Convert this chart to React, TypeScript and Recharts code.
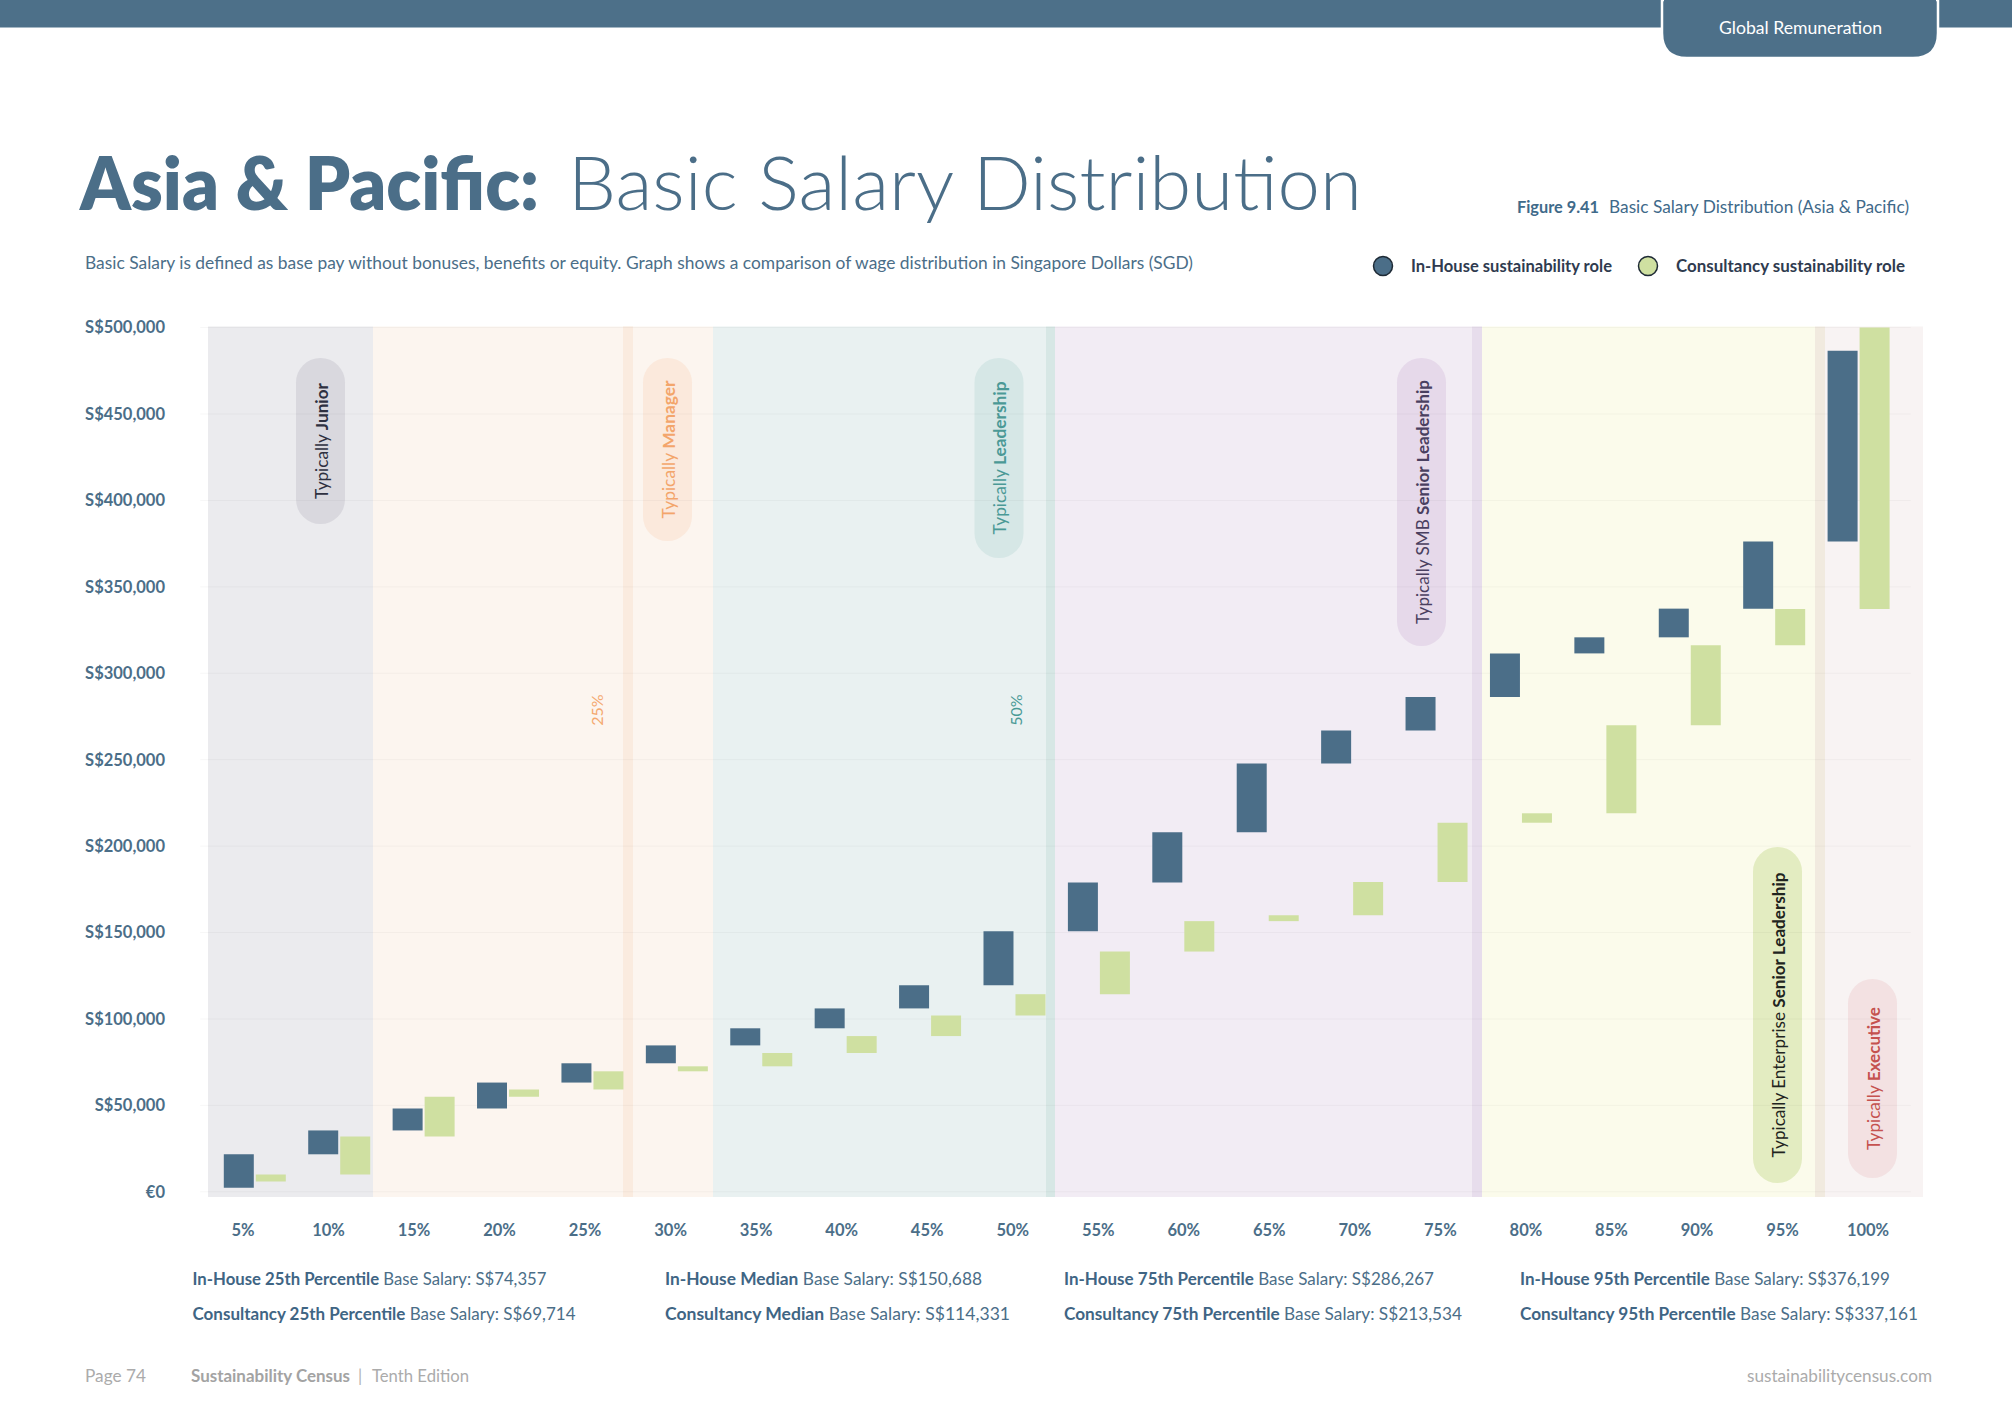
import React from 'react';
import { BarChart, Bar, XAxis, YAxis, CartesianGrid } from 'recharts';

const FONT = "Lato, 'Open Sans', 'DejaVu Sans', sans-serif";

// Percentile categories (x axis)
const percentiles = ['5%', '10%', '15%', '20%', '25%', '30%', '35%', '40%', '45%', '50%',
  '55%', '60%', '65%', '70%', '75%', '80%', '85%', '90%', '95%', '100%'];

// Salary boundaries (SGD) – each bar spans from one boundary to the next
const inHouseBounds = [2400, 21700, 35500, 48200, 63200, 74357, 84700, 94600, 106100, 119500,
  150688, 178900, 208000, 247800, 266900, 286267, 311500, 320800, 337400, 376199, 486600];
const consultancyBounds = [5900, 10000, 32000, 55000, 59200, 69714, 72600, 80300, 90100, 102000,
  114331, 139000, 156600, 160000, 179200, 213534, 219000, 270000, 316200, 337161, 500000];

// Y axis ticks
const yTicks = [0, 50000, 100000, 150000, 200000, 250000, 300000, 350000, 400000, 450000, 500000];

const data = percentiles.map((p, i) => ({
  pct: p,
  inHouse: [inHouseBounds[i], inHouseBounds[i + 1]],
  consultancy: [consultancyBounds[i], consultancyBounds[i + 1]],
}));

const BLUE = '#4b6e88';
const GREEN = '#cfe0a1';

// Decorative zone backgrounds (page pixels)
const zones = [
  { x1: 208, x2: 373, fill: '#ebebee' },
  { x1: 373, x2: 713, fill: '#fcf5ef' },
  { x1: 623, x2: 633, fill: '#faebdf' },
  { x1: 713, x2: 1046, fill: '#e9f1f1' },
  { x1: 1046, x2: 1055, fill: '#d7e7e5' },
  { x1: 1055, x2: 1472, fill: '#f2ecf4' },
  { x1: 1472, x2: 1482, fill: '#e7ddec' },
  { x1: 1482, x2: 1815, fill: '#fbfbeb' },
  { x1: 1815, x2: 1825, fill: '#f1eadf' },
  { x1: 1825, x2: 1923, fill: '#f8f3f3' },
];

const pills = [
  { cx: 320.5, y1: 358, y2: 524, fill: '#d9d8de', color: '#2e3040', pre: 'Typically ', bold: 'Junior', len: 116 },
  { cx: 667.5, y1: 358, y2: 541, fill: '#fbe9dc', color: '#f3a56b', pre: 'Typically ', bold: 'Manager', len: 138 },
  { cx: 999, y1: 358, y2: 558, fill: '#d6e7e6', color: '#4b9996', pre: 'Typically ', bold: 'Leadership', len: 153 },
  { cx: 1421.5, y1: 358, y2: 646, fill: '#e6d9ea', color: '#4a4060', pre: 'Typically SMB  ', bold: 'Senior Leadership', len: 244 },
  { cx: 1777.5, y1: 847, y2: 1183, fill: '#e3ecc1', color: '#1f2420', pre: 'Typically Enterprise  ', bold: 'Senior Leadership', len: 285 },
  { cx: 1872.5, y1: 979, y2: 1178, fill: '#f3e1e2', color: '#c5524f', pre: 'Typically  ', bold: 'Executive', len: 143 },
];

const notes = [
  { x: 192.5, y: 1285, bold: 'In-House 25th Percentile', rest: ' Base Salary: S$74,357', len: 354 },
  { x: 192.5, y: 1320, bold: 'Consultancy 25th Percentile', rest: ' Base Salary: S$69,714', len: 383 },
  { x: 665, y: 1285, bold: 'In-House Median', rest: ' Base Salary:   S$150,688', len: 317 },
  { x: 665, y: 1320, bold: 'Consultancy Median', rest: ' Base Salary:   S$114,331', len: 345 },
  { x: 1064, y: 1285, bold: 'In-House 75th Percentile', rest: ' Base Salary:  S$286,267', len: 370 },
  { x: 1064, y: 1320, bold: 'Consultancy 75th Percentile', rest: ' Base Salary:  S$213,534', len: 398 },
  { x: 1520, y: 1285, bold: 'In-House 95th Percentile', rest: ' Base Salary:  S$376,199', len: 370 },
  { x: 1520, y: 1320, bold: 'Consultancy 95th Percentile', rest: ' Base Salary:  S$337,161', len: 398 },
];

const fmtY = (v: number) => (v === 0 ? '€0' : 'S$' + v.toLocaleString('en-US'));

function Decor() {
  return (
    <svg width={2012} height={1426} style={{ position: 'absolute', left: 0, top: 0 }} fontFamily={FONT}>
      <rect x={0} y={0} width={2012} height={27.5} fill="#4d7089" />
      <path d="M1662,0 L1662,33 Q1662,58 1687,58 L1913,58 Q1938,58 1938,33 L1938,0 Z" fill="#4d7089" stroke="#ffffff" strokeWidth={2.5} />
      <rect x={1664} y={0} width={272} height={26} fill="#4d7089" />
      <text x={1800.5} y={33.5} textAnchor="middle" fill="#ffffff" fontSize={17} textLength={163} lengthAdjust="spacingAndGlyphs">Global Remuneration</text>

      <text x={80} y={210} fill={BLUE} fontSize={74} fontWeight={800} textLength={459} lengthAdjust="spacingAndGlyphs">Asia &amp; Pacific:</text>
      <text x={568} y={210} fill={BLUE} fontSize={74} fontWeight={300} textLength={794} lengthAdjust="spacingAndGlyphs">Basic Salary Distribution</text>
      <text x={85} y={269} fill={BLUE} fontSize={16.5} textLength={1108} lengthAdjust="spacingAndGlyphs">Basic Salary is defined as base pay without bonuses, benefits or equity. Graph shows a comparison of wage distribution in Singapore Dollars (SGD)</text>

      <text x={1517} y={213} fill="#3f6a8a" fontSize={17} fontWeight={700} textLength={82} lengthAdjust="spacingAndGlyphs">Figure 9.41</text>
      <text x={1609} y={213} fill="#3f6a8a" fontSize={17} textLength={300} lengthAdjust="spacingAndGlyphs">Basic Salary Distribution (Asia &amp; Pacific)</text>

      <circle cx={1383} cy={266} r={9.5} fill={BLUE} stroke="#1e2a35" strokeWidth={1.5} />
      <text x={1411} y={271.5} fill="#2f3b4f" fontSize={16.5} fontWeight={700} textLength={201} lengthAdjust="spacingAndGlyphs">In-House sustainability role</text>
      <circle cx={1648} cy={266} r={9.5} fill={GREEN} stroke="#1e2a35" strokeWidth={1.5} />
      <text x={1676} y={271.5} fill="#2f3b4f" fontSize={16.5} fontWeight={700} textLength={229} lengthAdjust="spacingAndGlyphs">Consultancy sustainability role</text>

      {zones.map((z, i) => (
        <rect key={i} x={z.x1} y={326.5} width={z.x2 - z.x1} height={1197 - 326.5} fill={z.fill} />
      ))}

      {pills.map((p, i) => {
        const cy = (p.y1 + p.y2) / 2;
        return (
          <g key={i}>
            <rect x={p.cx - 24.5} y={p.y1} width={49} height={p.y2 - p.y1} rx={24.5} fill={p.fill} />
            <text x={p.cx} y={cy} transform={`rotate(-90 ${p.cx} ${cy})`} textAnchor="middle" dominantBaseline="central"
              fill={p.color} fontSize={17} textLength={p.len} lengthAdjust="spacingAndGlyphs">
              <tspan>{p.pre}</tspan><tspan fontWeight={700}>{p.bold}</tspan>
            </text>
          </g>
        );
      })}

      <text x={596} y={710} transform="rotate(-90 596 710)" textAnchor="middle" dominantBaseline="central" fill="#f4a970" fontSize={16}>25%</text>
      <text x={1015} y={710} transform="rotate(-90 1015 710)" textAnchor="middle" dominantBaseline="central" fill="#4a9a96" fontSize={16}>50%</text>

      {notes.map((n, i) => (
        <text key={i} x={n.x} y={n.y} fill={BLUE} fontSize={16.5} textLength={n.len} lengthAdjust="spacingAndGlyphs">
          <tspan fontWeight={700} fill="#3f6584">{n.bold}</tspan><tspan>{n.rest}</tspan>
        </text>
      ))}

      <text x={85} y={1382} fill="#ababab" fontSize={16.5} textLength={61} lengthAdjust="spacingAndGlyphs">Page 74</text>
      <text x={191} y={1382} fill="#a3a3a3" fontSize={16.5} fontWeight={700} textLength={159} lengthAdjust="spacingAndGlyphs">Sustainability Census</text>
      <text x={358} y={1382} fill="#b0b0b0" fontSize={16.5}>|</text>
      <text x={372} y={1382} fill="#ababab" fontSize={16.5} textLength={97} lengthAdjust="spacingAndGlyphs">Tenth Edition</text>
      <text x={1932} y={1382} textAnchor="end" fill="#ababab" fontSize={16.5} textLength={185} lengthAdjust="spacingAndGlyphs">sustainabilitycensus.com</text>
    </svg>
  );
}

export default function App() {
  return (
    <div style={{ position: 'absolute', left: 0, top: 0, width: 2012, height: 1426, background: '#ffffff', overflow: 'hidden' }}>
      <Decor />
      <div style={{ position: 'absolute', left: 0, top: 0 }}>
        <BarChart
          width={2012}
          height={1426}
          data={data}
          margin={{ top: 327.6, right: 101.2, bottom: 174.2, left: 50.2 }}
          barGap={2}
          barCategoryGap={0}
        >
          <CartesianGrid vertical={false} stroke="#000000" strokeOpacity={0.035} xAxisId="pct" />
          <XAxis
            xAxisId="pct"
            dataKey="pct"
            interval={0}
            axisLine={false}
            tickLine={false}
            tickSize={0}
            tickMargin={32}
            height={60}
            tick={{ fill: BLUE, fontSize: 16.5, fontWeight: 700, fontFamily: FONT }}
          />
          <XAxis xAxisId="bars" dataKey="pct" hide height={0} padding={{ left: 12.6, right: 9.8 }} />
          <YAxis
            domain={[0, 500000]}
            ticks={yTicks}
            interval={0}
            width={150}
            axisLine={false}
            tickLine={false}
            tickSize={0}
            tickMargin={35.2}
            tickFormatter={fmtY}
            tick={{ fill: BLUE, fontSize: 16.5, fontWeight: 700, fontFamily: FONT }}
          />
          <Bar xAxisId="bars" dataKey="inHouse" fill={BLUE} barSize={30} isAnimationActive={false} />
          <Bar xAxisId="bars" dataKey="consultancy" fill={GREEN} barSize={30} isAnimationActive={false} />
        </BarChart>
      </div>
    </div>
  );
}
